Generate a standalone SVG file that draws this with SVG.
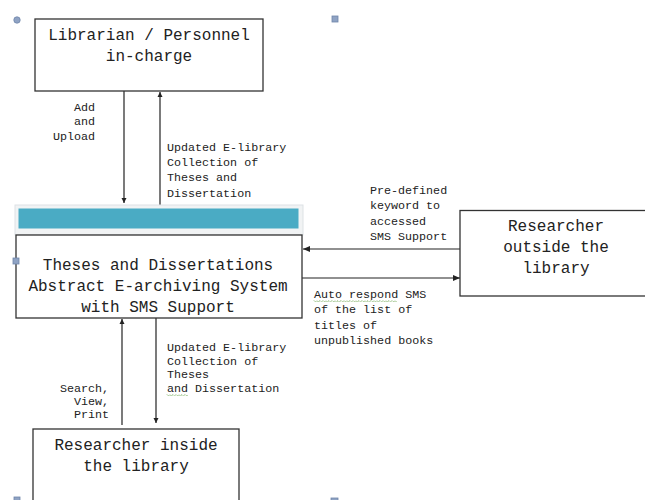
<svg xmlns="http://www.w3.org/2000/svg" width="645" height="500" viewBox="0 0 645 500">
<defs>
<style>
.box{fill:#fff;stroke:#333;stroke-width:1.3}
.big{font-family:"Liberation Mono","Courier New",monospace;font-size:16px;fill:#222;text-anchor:middle}
.sm{font-family:"Liberation Mono","Courier New",monospace;font-size:11.7px;fill:#222}
.ln{stroke:#222;stroke-width:1.2;fill:none}
.hnd{fill:#8fa3c4;stroke:#6f85aa;stroke-width:0.8}
.sq{fill:none;stroke:#5a9a3a;stroke-width:0.8;stroke-dasharray:1.5 1}
</style>
<marker id="ah" markerWidth="8" markerHeight="8" refX="7" refY="4" orient="auto" markerUnits="userSpaceOnUse">
<path d="M0,1 L7,4 L0,7 Z" fill="#222"/>
</marker>
<marker id="ahs" markerWidth="6" markerHeight="6" refX="5" refY="3" orient="auto" markerUnits="userSpaceOnUse">
<path d="M0,0.5 L5,3 L0,5.5 Z" fill="#222"/>
</marker>
</defs>
<rect width="645" height="500" fill="#fff"/>

<g id="connectors">
<line class="ln" x1="124" y1="91" x2="124" y2="203" marker-end="url(#ahs)"/>
<line class="ln" x1="160" y1="207" x2="160" y2="92" marker-end="url(#ahs)"/>
<line class="ln" x1="460" y1="249" x2="303" y2="249" marker-end="url(#ah)"/>
<line class="ln" x1="302" y1="278" x2="460" y2="278" marker-end="url(#ah)"/>
<line class="ln" x1="122" y1="425" x2="122" y2="319" marker-end="url(#ahs)"/>
<line class="ln" x1="156" y1="318" x2="156" y2="423" marker-end="url(#ahs)"/>
</g>

<g id="librarian">
<rect class="box" x="35" y="19" width="228" height="72"/>
<text class="big" x="149" y="40">Librarian / Personnel</text>
<text class="big" x="149" y="61">in-charge</text>
</g>

<g id="system">
<rect x="15" y="205" width="288" height="30" fill="#f1f3f4" stroke="#dde2e5" stroke-width="1"/>
<rect x="18.5" y="208.5" width="280" height="20" fill="#4aabc4"/>
<rect class="box" x="16" y="235" width="286" height="83"/>
<text class="big" x="158" y="270">Theses and Dissertations</text>
<text class="big" x="158" y="291">Abstract E-archiving System</text>
<text class="big" x="158" y="312">with SMS Support</text>
</g>

<g id="outside">
<rect class="box" x="460" y="210.5" width="186" height="85.5"/>
<text class="big" x="556" y="231">Researcher</text>
<text class="big" x="556" y="252">outside the</text>
<text class="big" x="556" y="273">library</text>
</g>

<g id="inside">
<rect class="box" x="33" y="429" width="206" height="80"/>
<text class="big" x="136" y="450">Researcher inside</text>
<text class="big" x="136" y="471">the library</text>
</g>

<g id="handles">
<circle class="hnd" cx="17" cy="20" r="3.2"/>
<rect class="hnd" x="332" y="16" width="6" height="6"/>
<rect class="hnd" x="13" y="258" width="6" height="6"/>
<rect class="hnd" x="14" y="497" width="6" height="6"/>
<rect class="hnd" x="331" y="498" width="7" height="4"/>
</g>

<g id="labels">
<text class="sm" text-anchor="end" x="95" y="111">Add</text>
<text class="sm" text-anchor="end" x="95" y="125">and</text>
<text class="sm" text-anchor="end" x="95" y="140">Upload</text>

<text class="sm" x="167" y="151">Updated E-library</text>
<text class="sm" x="167" y="166">Collection of</text>
<text class="sm" x="167" y="181">Theses and</text>
<text class="sm" x="167" y="197">Dissertation</text>

<text class="sm" x="370" y="194">Pre-defined</text>
<text class="sm" x="370" y="209">keyword to</text>
<text class="sm" x="370" y="225">accessed</text>
<text class="sm" x="370" y="240">SMS Support</text>

<text class="sm" x="314" y="298">Auto respond SMS</text>
<path class="sq" d="M314,300.5 l1.5,1.5 1.5,-1.5 1.5,1.5 1.5,-1.5 1.5,1.5 1.5,-1.5 1.5,1.5 1.5,-1.5 1.5,1.5 1.5,-1.5 1.5,1.5 1.5,-1.5 1.5,1.5 1.5,-1.5 1.5,1.5 1.5,-1.5 1.5,1.5 1.5,-1.5 1.5,1.5 1.5,-1.5 1.5,1.5 1.5,-1.5 1.5,1.5 1.5,-1.5 1.5,1.5 1.5,-1.5 1.5,1.5 1.5,-1.5 1.5,1.5 1.5,-1.5 1.5,1.5 1.5,-1.5 1.5,1.5 1.5,-1.5 1.5,1.5 1.5,-1.5 1.5,1.5 1.5,-1.5 1.5,1.5 1.5,-1.5 1.5,1.5 1.5,-1.5 1.5,1.5 1.5,-1.5 1.5,1.5 1.5,-1.5 1.5,1.5 1.5,-1.5 1.5,1.5 1.5,-1.5 1.5,1.5 1.5,-1.5 1.5,1.5 1.5,-1.5 1.5,1.5"/>
<text class="sm" x="314" y="313">of the list of</text>
<text class="sm" x="314" y="329">titles of</text>
<text class="sm" x="314" y="344">unpublished books</text>

<text class="sm" text-anchor="end" x="109" y="392">Search,</text>
<text class="sm" text-anchor="end" x="109" y="405">View,</text>
<text class="sm" text-anchor="end" x="109" y="418">Print</text>

<text class="sm" x="167" y="351">Updated E-library</text>
<text class="sm" x="167" y="365">Collection of</text>
<text class="sm" x="167" y="378">Theses</text>
<text class="sm" x="167" y="392">and Dissertation</text>
<path class="sq" d="M167,394.5 l1.5,1.5 1.5,-1.5 1.5,1.5 1.5,-1.5 1.5,1.5 1.5,-1.5 1.5,1.5 1.5,-1.5 1.5,1.5 1.5,-1.5 1.5,1.5 1.5,-1.5 1.5,1.5 1.5,-1.5"/>
</g>
</svg>
